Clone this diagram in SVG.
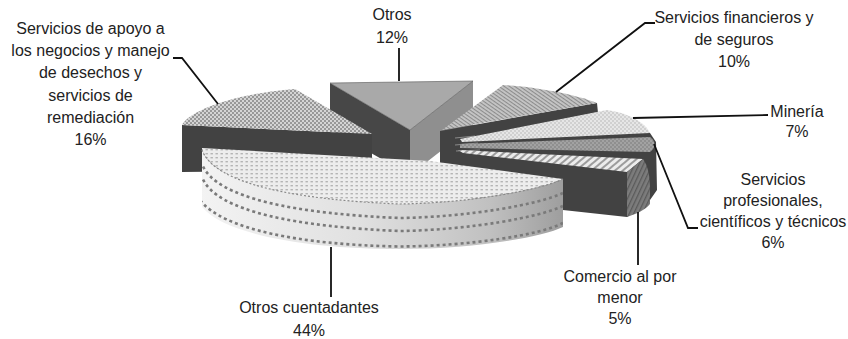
<svg xmlns="http://www.w3.org/2000/svg" width="848" height="339" viewBox="0 0 848 339">
<style>
text{font-family:"Liberation Sans",Arial,sans-serif;font-size:16px;fill:#222;text-anchor:middle}
.lead{fill:none;stroke:#111;stroke-width:1.8}
.dark{fill:#424242}
.edge{stroke:#555;stroke-width:0.6}
</style>
<defs>
<pattern id="pBig" width="5" height="4" patternUnits="userSpaceOnUse"><rect width="5" height="4" fill="#ededed"/><rect x="0.5" y="1" width="2.4" height="1.4" fill="#b4b4b4"/></pattern>
<pattern id="p16" width="4" height="4" patternUnits="userSpaceOnUse"><rect width="4" height="4" fill="#d4d4d4"/><circle cx="1" cy="1" r="0.95" fill="#7e7e7e"/><circle cx="3" cy="3" r="0.95" fill="#7e7e7e"/></pattern>
<pattern id="p10" width="3" height="3" patternUnits="userSpaceOnUse" patternTransform="rotate(35)"><rect width="3" height="3" fill="#c6c6c6"/><rect width="3" height="1.1" fill="#8c8c8c"/></pattern>
<pattern id="p7" width="4" height="4" patternUnits="userSpaceOnUse"><rect width="4" height="4" fill="#e6e6e6"/><circle cx="1" cy="1" r="0.8" fill="#b4b4b4"/><circle cx="3" cy="3" r="0.8" fill="#b4b4b4"/></pattern>
<pattern id="p6" width="4" height="4" patternUnits="userSpaceOnUse"><rect width="4" height="4" fill="#a2a2a2"/><circle cx="1" cy="1" r="0.8" fill="#777"/><circle cx="3" cy="3" r="0.8" fill="#777"/></pattern>
<pattern id="p5" width="5" height="5" patternUnits="userSpaceOnUse" patternTransform="rotate(-40)"><rect width="5" height="5" fill="#ececec"/><rect width="5" height="2" fill="#9c9c9c"/></pattern>
<pattern id="p5s" width="4" height="4" patternUnits="userSpaceOnUse" patternTransform="rotate(-65)"><rect width="4" height="4" fill="#7c7c7c"/><rect width="4" height="1.3" fill="#5a5a5a"/></pattern>
<linearGradient id="gSide" gradientUnits="userSpaceOnUse" x1="200" y1="0" x2="563" y2="0">
<stop offset="0" stop-color="#f3f3f3"/><stop offset="0.45" stop-color="#e0e0e0"/><stop offset="0.8" stop-color="#c0c0c0"/><stop offset="1" stop-color="#9e9e9e"/>
</linearGradient>
<clipPath id="cSide"><path d="M563,179 C540,190 470,203 400,204 C300,200 215,185 202,150 L202,207 C225,235 310,249 400,249 C470,249 540,238 563,227 Z"/></clipPath>
</defs>

<g id="slice-otros">
<path d="M330,83 L410,130 L410,175 L330,130 Z" fill="#474747"/>
<path d="M410,130 L473,81 L473,126 L410,175 Z" fill="#8f8f8f"/>
<path d="M330,83 L473,81 L410,130 Z" fill="#a9a9a9" class="edge"/>
</g>

<g id="slice-apoyo">
<path d="M182,125 L372,134 L372,170 L182,172 Z" class="dark"/>
<path d="M182,125 C188,112 230,94 295,89 L372,134 Z" fill="url(#p16)"/>
</g>

<g id="slice-cluster-sides">
<path d="M440,131 L597,103 L598,113 L650,133 L656,142 L657,190 L650,200 L627,217 L470,200 L440,178 Z" class="dark"/>
<path d="M455,138 L475,136 M455,145 L478,143 M456,151 L480,150" stroke="#8a8a8a" stroke-width="1"/>
</g>

<g id="slice-financieros">
<path d="M442,130 L503,85 C530,86 575,94 597,103 Z" fill="url(#p10)"/>
</g>

<g id="slice-mineria">
<path d="M460,139 L607,110 C628,113 645,122 650,133 L462,142 Z" fill="url(#p7)"/>
</g>

<g id="slice-profesionales">
<path d="M460,144 L650,137 C656,141 656,148 650,152 L460,148 Z" fill="url(#p6)"/>
</g>

<g id="slice-comercio">
<path d="M458,150 L643,159 L627,172 L463,153 Z" fill="url(#p5)"/>
<path d="M627,172 L643,159 C648,166 650,176 650,190 L650,204 C645,210 636,214 627,217 Z" fill="url(#p5s)"/>
</g>

<g id="slice-otros-cuentadantes">
<path d="M563,179 C540,190 470,203 400,204 C300,200 215,185 202,150 L202,207 C225,235 310,249 400,249 C470,249 540,238 563,227 Z" fill="url(#gSide)"/>
<g clip-path="url(#cSide)" fill="none" stroke="#7a7a7a" stroke-width="2.6" stroke-dasharray="3 3">
<path d="M563,193 C540,204 470,217 400,218 C300,214 215,199 202,164"/>
<path d="M563,206 C540,217 470,230 400,231 C300,227 215,212 202,177"/>
<path d="M563,223 C540,235 470,246 400,246.5 C300,245 222,229 200,200"/>
</g>
<path d="M202,148 L430,161 L563,179 C540,190 470,203 400,204 C300,200 215,185 202,150 Z" fill="url(#pBig)"/>
<path d="M563,179 C540,190 470,203 400,204 C300,200 215,185 202,150" fill="none" stroke="#888" stroke-width="1.2" stroke-dasharray="2 2"/>
</g>

<g id="connectors">
<polyline class="lead" points="173,58 182,58 218,104"/>
<line class="lead" x1="399" y1="48" x2="399" y2="81"/>
<polyline class="lead" points="655,23 645,23 556,92"/>
<line class="lead" x1="768" y1="115" x2="633" y2="118"/>
<polyline class="lead" points="698,228 688,228 654,144"/>
<line class="lead" x1="638" y1="212" x2="638" y2="265"/>
<line class="lead" x1="331" y1="247" x2="331" y2="297"/>
</g>

<g id="labels">
<text x="90.5" y="34">Servicios de apoyo a</text>
<text x="90.5" y="56">los negocios y manejo</text>
<text x="90.5" y="78">de desechos y</text>
<text x="90.5" y="101">servicios de</text>
<text x="90.5" y="123">remediación</text>
<text x="90.5" y="145">16%</text>
<text x="392" y="20">Otros</text>
<text x="392" y="43">12%</text>
<text x="734" y="23">Servicios financieros y</text>
<text x="734" y="45">de seguros</text>
<text x="734" y="67">10%</text>
<text x="797" y="117">Minería</text>
<text x="797" y="137">7%</text>
<text x="773" y="185">Servicios</text>
<text x="773" y="206">profesionales,</text>
<text x="773" y="227">científicos y técnicos</text>
<text x="773" y="248">6%</text>
<text x="620" y="282">Comercio al por</text>
<text x="620" y="303">menor</text>
<text x="620" y="324">5%</text>
<text x="309" y="313">Otros cuentadantes</text>
<text x="309" y="336">44%</text>
</g>
</svg>
